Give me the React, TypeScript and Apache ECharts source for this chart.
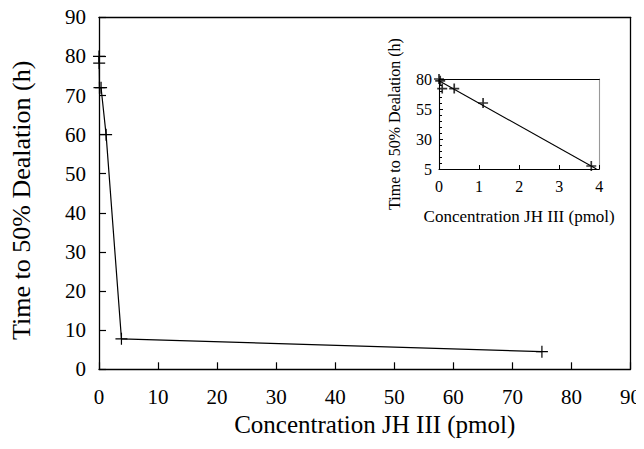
import React, { useEffect, useRef } from "react";
import * as echarts from "echarts";

// Main chart data (concentration in pmol, time in h)
const mainX = [0, 0.03, 0.08, 0.35, 1.2, 3.8, 75];
const mainY = [80, 78.3, 72, 72, 60, 7.8, 4.5];

// Inset data
const insetX = [0, 0.03, 0.08, 0.38, 1.1, 3.8];
const insetY = [80, 78.5, 72, 72, 60, 7.5];
// Fitted line endpoints in inset
const trendX = [0, 3.93];
const trendY = [78.5, 5];

const mainXTicks = [0, 10, 20, 30, 40, 50, 60, 70, 80, 90];
const mainYTicks = [0, 10, 20, 30, 40, 50, 60, 70, 80, 90];
const insetYBase = 5; // inset y axis starts at 5 (ticks 5, 30, 55, 80)

const FONT = "Liberation Serif";
const PLUS = "path://M-1,-10h2v9h9v2h-9v9h-2v-9h-9v-2h9z";
const PLUS_BOLD = "path://M-1.7,-10h3.4v8.3h8.3v3.4h-8.3v8.3h-3.4v-8.3h-8.3v-3.4h8.3z";

export default function App() {
  const ref = useRef<HTMLDivElement>(null);
  useEffect(() => {
    if (!ref.current) return;
    const chart = echarts.init(ref.current, undefined, { renderer: "svg" });
    const mainData = mainX.map((x, i) => [x, mainY[i]]);
    const insetData = insetX.map((x, i) => [x, insetY[i] - insetYBase]);
    const trendData = trendX.map((x, i) => [x, trendY[i] - insetYBase]);
    const black = "#000";
    const frame = (gridIndex: number, position: string, max: number, color: string, width: number) => ({
      type: "value",
      gridIndex,
      position,
      min: 0,
      max,
      axisLine: { onZero: false, lineStyle: { color, width } },
      axisTick: { show: false },
      axisLabel: { show: false },
      splitLine: { show: false },
    });
    chart.setOption({
      animation: false,
      backgroundColor: "#fff",
      textStyle: { fontFamily: FONT },
      grid: [
        { left: 97.7, top: 17.3, right: 12.3, bottom: 79.7, show: false },
        { left: 439, top: 79, right: 44.7, bottom: 280, show: false },
      ],
      xAxis: [
        {
          type: "value",
          gridIndex: 0,
          min: mainXTicks[0],
          max: mainXTicks[mainXTicks.length - 1],
          interval: 10,
          axisLine: { onZero: false, lineStyle: { color: black, width: 1.3 } },
          axisTick: { inside: true, length: 7, lineStyle: { color: black, width: 1.2 } },
          axisLabel: { color: black, fontSize: 21, fontFamily: FONT, margin: 17 },
          splitLine: { show: false },
          name: "Concentration JH III (pmol)",
          nameLocation: "middle",
          nameGap: 42,
          nameTextStyle: { color: black, fontSize: 25, fontFamily: FONT, padding: [0, 0, 0, 20] },
        },
        frame(0, "top", 90, black, 1.3),
        {
          type: "value",
          gridIndex: 1,
          min: 0,
          max: 4,
          interval: 1,
          axisLine: { onZero: false, lineStyle: { color: black, width: 1.1 } },
          axisTick: { inside: true, length: 4, lineStyle: { color: black } },
          axisLabel: { color: black, fontSize: 16, fontFamily: FONT, margin: 9 },
          splitLine: { show: false },
          name: "Concentration JH III (pmol)",
          nameLocation: "middle",
          nameGap: 39,
          nameTextStyle: { color: black, fontSize: 17, fontFamily: FONT },
        },
        frame(1, "top", 4, black, 1.1),
      ],
      yAxis: [
        {
          type: "value",
          gridIndex: 0,
          min: mainYTicks[0],
          max: mainYTicks[mainYTicks.length - 1],
          interval: 10,
          axisLine: { onZero: false, lineStyle: { color: black, width: 1.3 } },
          axisTick: { inside: true, length: 7, lineStyle: { color: black, width: 1.2 } },
          axisLabel: { color: black, fontSize: 21, fontFamily: FONT, margin: 13 },
          splitLine: { show: false },
          name: "Time to 50% Dealation (h)",
          nameLocation: "middle",
          nameGap: 65,
          nameTextStyle: { color: black, fontSize: 26, fontFamily: FONT, padding: [0, 14, 0, 0] },
        },
        frame(0, "right", 90, black, 1.3),
        {
          type: "value",
          gridIndex: 1,
          min: 0,
          max: 75,
          interval: 25,
          axisLine: { onZero: false, lineStyle: { color: black, width: 1.1 } },
          axisTick: { inside: true, length: 4, lineStyle: { color: black } },
          minorTick: { show: true, splitNumber: 5, length: 3, lineStyle: { color: black } },
          axisLabel: {
            color: black,
            fontSize: 16,
            fontFamily: FONT,
            margin: 7,
            formatter: (v: number) => String(v + insetYBase),
          },
          splitLine: { show: false },
          name: "Time to 50% Dealation (h)",
          nameLocation: "middle",
          nameGap: 37,
          nameTextStyle: { color: black, fontSize: 16, fontFamily: FONT },
        },
        frame(1, "right", 75, "#999", 1.1),
      ],
      series: [
        {
          type: "line",
          xAxisIndex: 0,
          yAxisIndex: 0,
          data: mainData,
          symbol: PLUS,
          symbolSize: 12,
          showAllSymbol: true,
          lineStyle: { color: black, width: 1.2 },
          itemStyle: { color: black },
        },
        {
          type: "scatter",
          xAxisIndex: 2,
          yAxisIndex: 2,
          data: insetData,
          symbol: PLUS_BOLD,
          symbolSize: 10,
          itemStyle: { color: black },
        },
        {
          type: "line",
          xAxisIndex: 2,
          yAxisIndex: 2,
          data: trendData,
          symbol: "none",
          lineStyle: { color: black, width: 1.1 },
        },
      ],
    });
    return () => chart.dispose();
  }, []);
  return <div ref={ref} style={{ width: 644, height: 449, margin: -8 }} />;
}
